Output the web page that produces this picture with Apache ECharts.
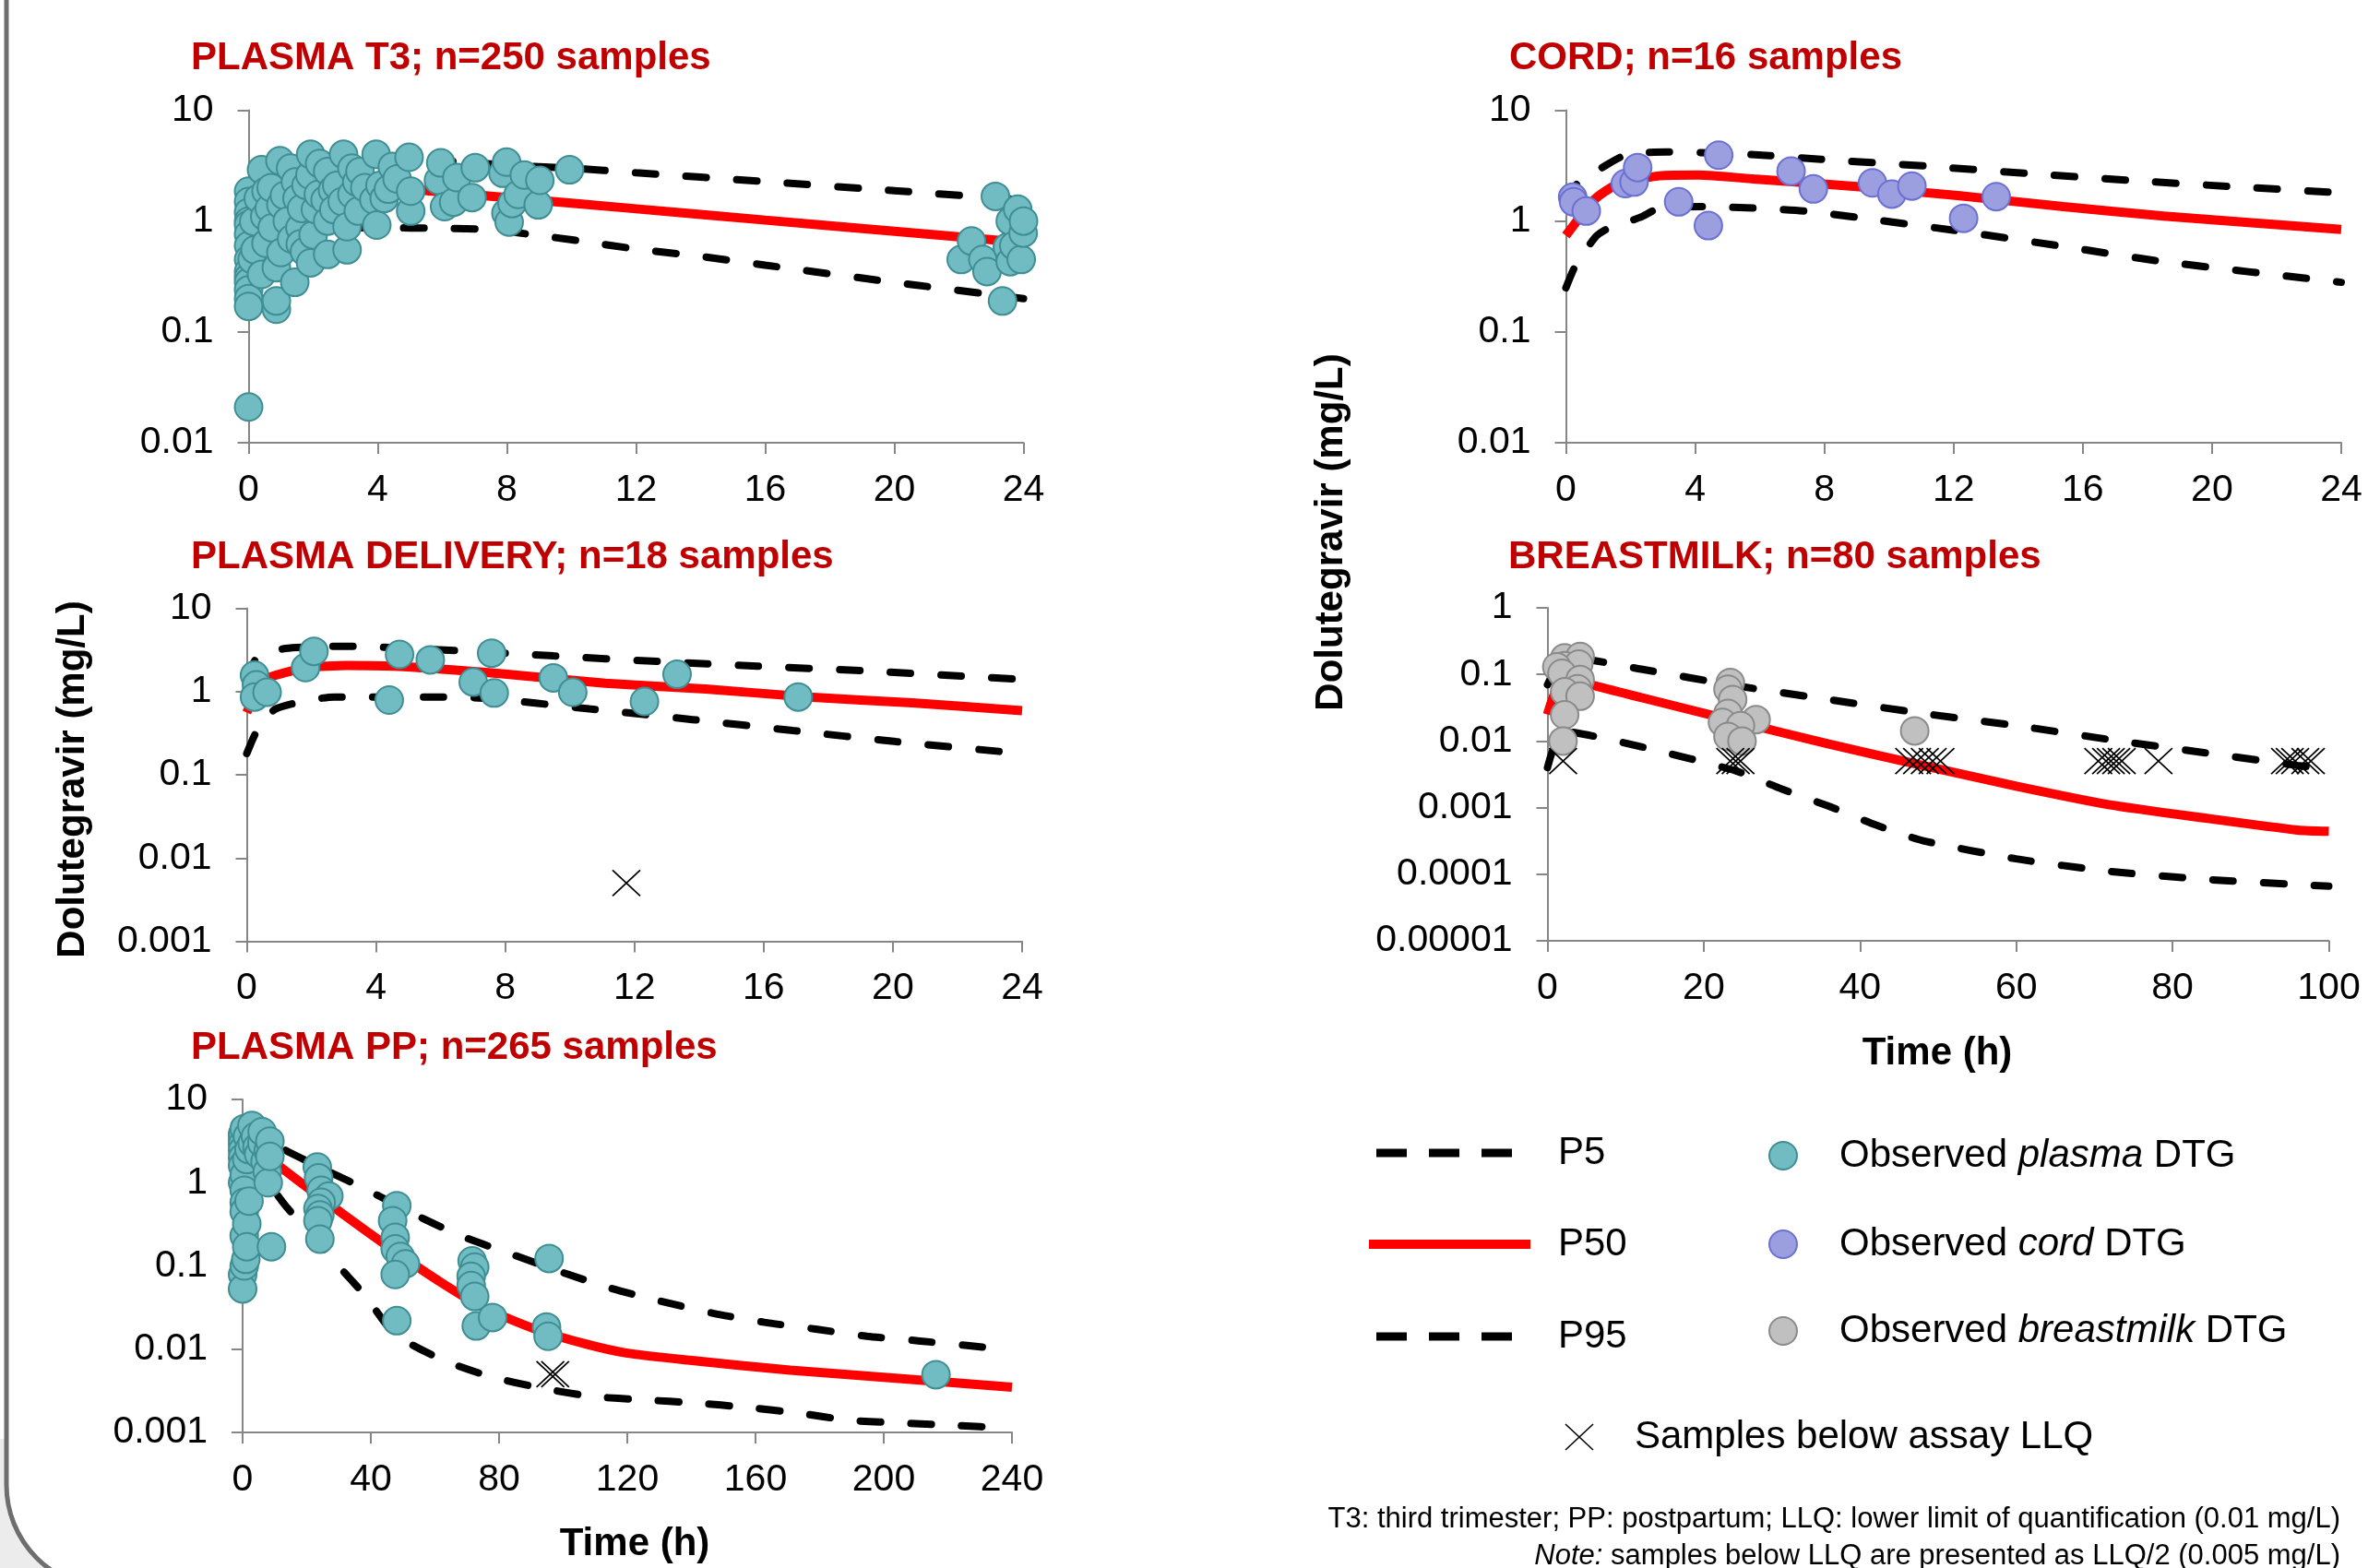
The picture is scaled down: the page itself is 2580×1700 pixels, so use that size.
<!DOCTYPE html>
<html>
<head>
<meta charset="utf-8">
<script src="https://cdn.jsdelivr.net/npm/echarts@6/dist/echarts.min.js"></script>
<style>
  html, body { margin: 0; padding: 0; background: #fff; }
  #chart { width: 2580px; height: 1700px; }
</style>
</head>
<body>
<div id="chart"></div>
<script>
// ---- data: [time (h), concentration (mg/L)] ----
const t3Observed = [
  [0, 0.021], [0, 1.86], [0, 1.5], [0, 1.2], [0, 1.0], [0, 0.93], [0, 0.76], [0, 0.6], [0, 0.45],
  [0, 0.35], [0, 0.31], [0, 0.28], [0, 0.24], [0, 0.2], [0, 0.17],
  [0.11, 0.45], [0.16, 0.99], [0.2, 0.55], [0.3, 1.6], [0.4, 2.9], [0.4, 0.33], [0.5, 1.1],
  [0.54, 1.86], [0.54, 0.63], [0.64, 1.3], [0.7, 2.0], [0.73, 0.87], [0.86, 0.16], [0.86, 0.19],
  [0.86, 0.38], [0.97, 3.5], [1.0, 1.4], [1.0, 0.52], [1.11, 1.7], [1.2, 1.0], [1.3, 3.0],
  [1.33, 0.69], [1.43, 0.28], [1.45, 2.25], [1.5, 1.6], [1.59, 0.87], [1.6, 0.62], [1.64, 1.3],
  [1.73, 0.53], [1.78, 2.1], [1.9, 2.6], [1.92, 4.0], [1.92, 0.42], [2.0, 0.75], [2.07, 1.27],
  [2.16, 1.74], [2.2, 3.3], [2.37, 1.55], [2.45, 2.8], [2.45, 0.5], [2.45, 1.0], [2.6, 1.9],
  [2.64, 1.27], [2.73, 2.1], [2.9, 1.5], [2.94, 4.0], [3.05, 0.55], [3.05, 0.89], [3.2, 1.74],
  [3.2, 3.0], [3.35, 2.25], [3.4, 1.23], [3.45, 2.8], [3.6, 2.0], [3.88, 1.55], [3.95, 4.0],
  [3.97, 0.92], [4.07, 2.1], [4.2, 1.6], [4.33, 1.94], [4.45, 3.1], [4.6, 2.4], [4.97, 3.76],
  [5.02, 1.23], [5.02, 1.86], [5.88, 2.33], [5.95, 3.35], [6.07, 1.35], [6.35, 1.48],
  [6.45, 2.47], [6.92, 1.63], [7.02, 3.03], [7.88, 2.7], [7.97, 1.18], [7.99, 3.4], [8.07, 0.98],
  [8.16, 1.44], [8.35, 1.74], [8.54, 2.6], [8.97, 1.4], [9.02, 2.33], [9.94, 2.9],
  [22.07, 0.45], [22.39, 0.66], [22.74, 0.45], [22.87, 0.35], [23.13, 1.67], [23.35, 0.19],
  [23.5, 0.58], [23.59, 1.0], [23.59, 0.43], [23.7, 0.6], [23.82, 1.28], [23.93, 0.45],
  [23.99, 0.78], [24.0, 1.0]
];
const t3P5 = [[0, 0.15], [0.5, 0.4], [1, 0.62], [2, 0.85], [4, 0.87], [6, 0.86], [7.5, 0.84], [8.7, 0.76],
  [10.3, 0.66], [12, 0.56], [14, 0.48], [16, 0.4], [20, 0.28], [24, 0.2]];
const t3P50 = [[0, 0.5], [0.5, 1.2], [1, 1.6], [2, 2.0], [3, 2.15], [4, 2.1], [6, 1.82], [8, 1.63],
  [12, 1.29], [16, 1.02], [20, 0.81], [24, 0.64]];
const t3P95 = [[0, 1.5], [0.5, 2.6], [1, 3.2], [2, 3.7], [4, 3.8], [6, 3.5], [8, 3.2], [10, 3.0],
  [12, 2.73], [16, 2.27], [20, 1.88], [24, 1.55]];

const cordObserved = [
  [0.21, 1.64], [0.24, 1.49], [0.63, 1.23], [1.84, 2.18], [2.11, 2.25], [2.22, 3.04], [3.49, 1.49],
  [4.41, 0.91], [4.73, 3.93], [6.97, 2.82], [7.66, 1.95], [9.49, 2.21], [10.09, 1.75], [10.71, 2.07],
  [12.31, 1.06], [13.32, 1.66]
];
const cordP5 = [[0, 0.25], [0.3, 0.4], [0.9, 0.71], [1.25, 0.84], [2.3, 1.08], [2.9, 1.31], [4.25, 1.35],
  [5.8, 1.31], [7.4, 1.23], [9, 1.08], [12.2, 0.81], [15.4, 0.59], [18.5, 0.43], [24, 0.28]];
const cordP50 = [[0, 0.74], [0.9, 1.58], [1.55, 2.11], [2.9, 2.56], [4.1, 2.6], [5.8, 2.4], [9, 2.05],
  [12.2, 1.69], [15.4, 1.35], [18.5, 1.11], [24, 0.84]];
const cordP95 = [[0, 1.5], [0.3, 2.1], [1.25, 3.2], [1.9, 4.0], [3.1, 4.2], [4.7, 4.1], [6.3, 3.9],
  [7.9, 3.6], [11.1, 3.14], [14.2, 2.7], [17.4, 2.33], [20.6, 2.05], [24, 1.8]];

const deliveryObserved = [
  [0.24, 1.57], [0.3, 1.2], [0.24, 0.86], [0.63, 0.98], [1.82, 1.94], [2.08, 3.04], [4.41, 0.79],
  [4.73, 2.79], [5.68, 2.4], [7.01, 1.3], [7.58, 2.89], [7.66, 0.96], [9.49, 1.46], [10.09, 0.98],
  [12.31, 0.76], [13.32, 1.61], [17.07, 0.86]
];
const deliveryBelowLLQ = [[11.75, 0.005]];
const deliveryP5 = [[0, 0.18], [0.3, 0.33], [0.9, 0.62], [2.7, 0.86], [5.8, 0.86], [7.4, 0.83],
  [10.6, 0.62], [13.8, 0.46], [16.9, 0.34], [20.1, 0.25], [24, 0.18]];
const deliveryP50 = [[0, 0.56], [0.5, 1.35], [0.9, 1.57], [1.9, 1.94], [3.1, 2.05], [4.7, 2.0],
  [7.9, 1.63], [11.1, 1.26], [14.2, 1.07], [17.4, 0.86], [20.6, 0.73], [24, 0.59]];
const deliveryP95 = [[0, 1.4], [0.3, 2.5], [1.2, 3.3], [3.1, 3.5], [5.8, 3.2], [9.5, 2.68], [12.7, 2.3],
  [15.8, 2.02], [19, 1.78], [24, 1.4]];

const milkObserved = [
  [2.19, 0.177], [4.18, 0.186], [2.2, 0.135], [4.0, 0.143], [1.2, 0.13], [1.86, 0.104], [4.18, 0.084],
  [3.85, 0.061], [2.2, 0.055], [4.18, 0.047], [2.2, 0.0247], [1.99, 0.01],
  [23.4, 0.0755], [23.1, 0.06], [23.7, 0.042], [23.1, 0.026], [26.7, 0.021], [22.4, 0.019],
  [24.7, 0.017], [23.1, 0.0117], [24.9, 0.01], [47.0, 0.0142]
];
const milkBelowLLQ = [
  [2.0, 0.005], [23.4, 0.005], [24.1, 0.005], [24.7, 0.005],
  [46.3, 0.005], [47.3, 0.005], [48.3, 0.005], [49.3, 0.005], [50.3, 0.005],
  [70.5, 0.005], [71.5, 0.005], [72.1, 0.005], [72.8, 0.005], [73.5, 0.005], [78.2, 0.005],
  [94.4, 0.005], [95.0, 0.005], [95.7, 0.005], [97.0, 0.005], [97.7, 0.005]
];
const milkP5 = [[0, 0.004], [2, 0.014], [12, 0.0082], [24, 0.0036], [30, 0.0019], [36, 0.00105],
  [42, 0.00055], [48, 0.00032], [60, 0.00017], [72, 0.00011], [84, 0.000084], [96, 0.00007], [100, 0.000066]];
const milkP50 = [[0, 0.025], [2, 0.09], [4, 0.085], [6, 0.068], [12, 0.045], [24, 0.02], [36, 0.009],
  [48, 0.0043], [60, 0.0021], [72, 0.0011], [84, 0.0007], [96, 0.00046], [100, 0.00044]];
const milkP95 = [[0, 0.07], [2, 0.17], [4, 0.17], [12, 0.12], [24, 0.068], [36, 0.042], [48, 0.026],
  [60, 0.017], [72, 0.0105], [84, 0.0067], [96, 0.0043], [100, 0.0038]];

const ppObserved = [
  [0, 3.3], [0, 3.8], [0, 2.9], [0, 2.45], [0, 2.0], [0, 1.6], [0, 1.0], [0, 0.0785], [0, 0.053],
  [0.5, 4.46], [0.5, 1.24], [0.5, 0.81], [0.5, 0.58], [0.5, 0.45], [0.5, 0.23], [0.5, 0.1],
  [1, 0.12], [1.3, 1.9], [1.3, 0.32], [1.3, 0.17], [1.5, 3.6], [2, 2.5], [2, 0.6], [2.9, 4.85],
  [3, 3.0], [4, 3.6], [4.5, 2.67], [5, 2.2], [6, 3.0], [6.1, 4.1], [7, 1.8], [7.7, 1.36],
  [8, 2.4], [8, 1.0], [8.5, 3.16], [8.5, 2.07], [9, 0.17],
  [23.3, 1.54], [23.7, 1.14], [24.5, 0.81], [26.9, 0.69], [24.5, 0.58], [23.5, 0.49], [24.1, 0.41],
  [23.5, 0.35], [24.1, 0.21],
  [48.1, 0.53], [46.8, 0.35], [47.6, 0.22], [47.6, 0.16], [49.2, 0.13], [50.8, 0.106], [47.6, 0.079],
  [48.1, 0.022],
  [71.6, 0.115], [72.4, 0.097], [71.3, 0.075], [71.3, 0.058], [72.4, 0.043], [72.9, 0.019], [78, 0.024],
  [95.6, 0.123], [94.8, 0.0185], [95.3, 0.0143], [216.3, 0.00494]
];
const ppBelowLLQ = [[96, 0.005], [97.5, 0.005]];
const ppP5 = [[0, 1.5], [4, 1.6], [8, 1.0], [14.1, 0.49], [22.1, 0.23], [28.5, 0.115], [38, 0.045],
  [47.6, 0.015], [62.8, 0.0073], [77.2, 0.0047], [93.2, 0.0034], [109.2, 0.0027], [125.2, 0.00246],
  [141.2, 0.00226], [157.2, 0.002], [173.2, 0.00171], [189.2, 0.0014], [205, 0.0013], [221, 0.00122],
  [240, 0.00112]];
const ppP50 = [[0, 3.0], [4, 3.0], [8, 2.2], [10, 1.75], [31.7, 0.41], [47.6, 0.149], [62, 0.063],
  [74.8, 0.032], [90.8, 0.0177], [106.8, 0.0116], [119.6, 0.009], [138.8, 0.0074], [170.8, 0.0056],
  [202.8, 0.0045], [240, 0.0035]];
const ppP95 = [[0, 4.5], [4, 4.5], [8, 3.6], [12.5, 2.56], [26.9, 1.36], [38, 0.85], [54, 0.41],
  [68.4, 0.227], [84.4, 0.136], [100.4, 0.082], [114.8, 0.054], [130, 0.038], [146.8, 0.027],
  [162.8, 0.021], [178.8, 0.0174], [194.8, 0.0143], [210.7, 0.0126], [226.7, 0.011], [240, 0.0098]];

// log tick labels, indexed by exponent + 5
const logTickLabels = ['0.00001', '0.0001', '0.001', '0.01', '0.1', '1', '10'];

const panelTitles = ['PLASMA T3; n=250 samples', 'CORD; n=16 samples', 'PLASMA DELIVERY; n=18 samples',
  'BREASTMILK; n=80 samples', 'PLASMA PP; n=265 samples'];

// ---- styling ----
const FONT = '"Liberation Sans", Arial, Helvetica, sans-serif';
const AXIS_GREY = '#868686';
const RED = '#ff0000';
const TITLE_RED = '#c00000';
const plasmaStyle = { color: '#70bcc2', borderColor: '#3f8e93' };
const cordStyle = { color: '#9b9fdf', borderColor: '#6b70d2' };
const milkStyle = { color: '#c0c0c0', borderColor: '#8a8a8a' };

// plot rectangles [left, top, width, height]
const grids = [
  [269.5, 119.5, 840, 360.5],   // T3
  [1697.5, 119.5, 840.5, 360.5], // cord
  [267.5, 659.5, 840.5, 361],   // delivery
  [1677.5, 659, 847, 361],      // breastmilk
  [263, 1192, 834, 361]         // PP
];
const xRanges = [[24, 4], [24, 4], [24, 4], [100, 20], [240, 40]];
const yRanges = [[0.01, 10], [0.01, 10], [0.001, 10], [0.00001, 1], [0.001, 10]];

const chart = echarts.init(document.getElementById('chart'));

function xAxisCfg(i) {
  return {
    type: 'value', gridIndex: i, min: 0, max: xRanges[i][0], interval: xRanges[i][1],
    axisLine: { show: true, onZero: false, lineStyle: { color: AXIS_GREY, width: 2 } },
    axisTick: { show: true, length: 12, lineStyle: { color: AXIS_GREY, width: 2 } },
    splitLine: { show: false },
    axisLabel: { color: '#000', fontSize: 41, fontFamily: FONT, margin: 31, showMinLabel: true, showMaxLabel: true }
  };
}
function yAxisCfg(i) {
  return {
    type: 'log', logBase: 10, gridIndex: i, min: yRanges[i][0], max: yRanges[i][1],
    axisLine: { show: true, lineStyle: { color: AXIS_GREY, width: 2 } },
    axisTick: { show: true, length: 12, lineStyle: { color: AXIS_GREY, width: 2 } },
    splitLine: { show: false },
    minorTick: { show: false },
    axisLabel: {
      color: '#000', fontSize: 41, fontFamily: FONT, margin: 38,
      formatter: (v) => logTickLabels[Math.round(Math.log10(v)) + 5]
    }
  };
}
function pLine(i, data, isMedian) {
  return {
    type: 'line', xAxisIndex: i, yAxisIndex: i, data, symbol: 'none', smooth: 0.2, silent: true, z: 2,
    lineStyle: isMedian
      ? { color: RED, width: 10 }
      : { color: '#000', width: 8, type: [22, 33], cap: 'round' }
  };
}
function observed(i, data, st) {
  return {
    type: 'scatter', xAxisIndex: i, yAxisIndex: i, data, symbolSize: 30, silent: true, z: 3,
    itemStyle: { color: st.color, borderColor: st.borderColor, borderWidth: 2, opacity: 1 }
  };
}
function belowLLQ(i, data) {
  return {
    type: 'scatter', xAxisIndex: i, yAxisIndex: i, data, silent: true, z: 4,
    symbol: 'path://M0,0L30,28M30,0L0,28', symbolSize: [30, 28],
    itemStyle: { color: 'none', borderColor: '#000', borderWidth: 1.6, opacity: 1 }
  };
}

const series = [
  pLine(0, t3P5), pLine(0, t3P95), pLine(0, t3P50, true), observed(0, t3Observed, plasmaStyle),
  pLine(1, cordP5), pLine(1, cordP95), pLine(1, cordP50, true), observed(1, cordObserved, cordStyle),
  pLine(2, deliveryP5), pLine(2, deliveryP95), pLine(2, deliveryP50, true),
  observed(2, deliveryObserved, plasmaStyle), belowLLQ(2, deliveryBelowLLQ),
  pLine(3, milkP5), pLine(3, milkP95), pLine(3, milkP50, true),
  observed(3, milkObserved, milkStyle), belowLLQ(3, milkBelowLLQ),
  pLine(4, ppP5), pLine(4, ppP95), pLine(4, ppP50, true),
  observed(4, ppObserved, plasmaStyle), belowLLQ(4, ppBelowLLQ)
];

function txt(text, x, y, size, opts) {
  opts = opts || {};
  return {
    type: 'text', x, y, rotation: opts.rotation || 0, z: 10, silent: true,
    style: {
      text, fill: opts.color || '#000', fontSize: size, fontFamily: FONT,
      fontWeight: opts.bold ? 'bold' : 'normal', fontStyle: opts.italic ? 'italic' : 'normal',
      align: opts.align || 'left', verticalAlign: 'middle',
      textAlign: opts.align || 'left', textVerticalAlign: 'middle',
      rich: opts.rich
    }
  };
}
const italicRich = (size) => ({ i: { fontStyle: 'italic', fontSize: size, fontFamily: FONT, fill: '#000' } });

const titlePos = [[207, 63], [1636, 63], [207, 604], [1635, 604], [207, 1136]];
const graphics = [
  // page frame with rounded lower-left corner
  { type: 'rect', z: -20, silent: true, shape: { x: 0, y: 1560, width: 160, height: 140 }, style: { fill: '#ececec' } },
  { type: 'rect', z: -10, silent: true, shape: { x: 7, y: -300, width: 3000, height: 2022, r: 112 },
    style: { fill: '#fff', stroke: '#6e6e6e', lineWidth: 5 } }
];
panelTitles.forEach((t, k) => graphics.push(txt(t, titlePos[k][0], titlePos[k][1], 42, { bold: true, color: TITLE_RED })));
graphics.push(txt('Dolutegravir (mg/L)', 79, 845, 42, { bold: true, align: 'center', rotation: Math.PI / 2 }));
graphics.push(txt('Dolutegravir (mg/L)', 1443, 577, 42, { bold: true, align: 'center', rotation: Math.PI / 2 }));
graphics.push(txt('Time (h)', 2100, 1142, 42, { bold: true, align: 'center' }));
graphics.push(txt('Time (h)', 688, 1674, 42, { bold: true, align: 'center' }));

// legend
const dashStyle = { stroke: '#000', lineWidth: 9, lineDash: [33, 24] };
graphics.push({ type: 'line', silent: true, z: 10, shape: { x1: 1492, y1: 1250, x2: 1659, y2: 1250 }, style: dashStyle });
graphics.push({ type: 'line', silent: true, z: 10, shape: { x1: 1484, y1: 1349, x2: 1659, y2: 1349 }, style: { stroke: RED, lineWidth: 10 } });
graphics.push({ type: 'line', silent: true, z: 10, shape: { x1: 1492, y1: 1449, x2: 1659, y2: 1449 }, style: dashStyle });
graphics.push(txt('P5', 1689, 1250, 42));
graphics.push(txt('P50', 1689, 1349, 42));
graphics.push(txt('P95', 1689, 1449, 42));
[[1253, plasmaStyle, 'plasma'], [1349, cordStyle, 'cord'], [1443, milkStyle, 'breastmilk']].forEach(([y, st, word]) => {
  graphics.push({ type: 'circle', silent: true, z: 10, shape: { cx: 1933, cy: y, r: 15 }, style: { fill: st.color, stroke: st.borderColor, lineWidth: 2 } });
  graphics.push(txt('Observed {i|' + word + '} DTG', 1994, y, 42, { rich: italicRich(42) }));
});
graphics.push({ type: 'line', silent: true, z: 10, shape: { x1: 1697, y1: 1544, x2: 1727, y2: 1572 }, style: { stroke: '#000', lineWidth: 1.6 } });
graphics.push({ type: 'line', silent: true, z: 10, shape: { x1: 1727, y1: 1544, x2: 1697, y2: 1572 }, style: { stroke: '#000', lineWidth: 1.6 } });
graphics.push(txt('Samples below assay LLQ', 1772, 1558, 42));

// footnote
graphics.push(txt('T3: third trimester; PP: postpartum; LLQ: lower limit of quantification (0.01 mg/L)', 2537, 1647, 31, { align: 'right' }));
graphics.push(txt('{i|Note:} samples below LLQ are presented as LLQ/2 (0.005 mg/L)', 2537, 1687, 31, { align: 'right', rich: italicRich(31) }));

chart.setOption({
  animation: false,
  backgroundColor: '#fff',
  grid: grids.map(([left, top, width, height]) => ({ left, top, width, height, containLabel: false })),
  xAxis: grids.map((g, i) => xAxisCfg(i)),
  yAxis: grids.map((g, i) => yAxisCfg(i)),
  series,
  graphic: { elements: graphics }
});
</script>
</body>
</html>
